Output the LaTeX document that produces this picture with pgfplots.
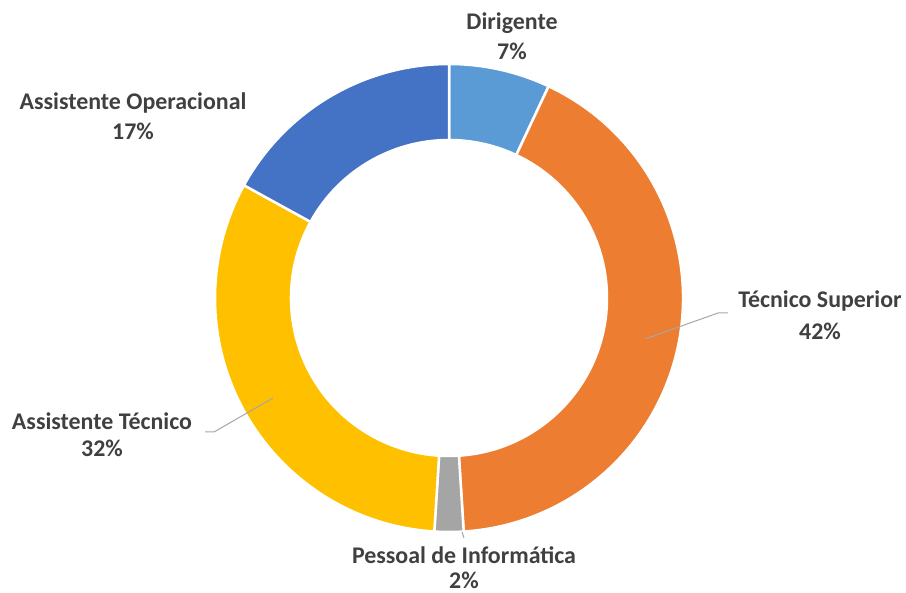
\documentclass[border=0pt]{standalone}
\usepackage{pgfplots}
\pgfplotsset{compat=1.18}
\usepackage{fontspec}
\setmainfont{Carlito}
\definecolor{cDir}{HTML}{5B9BD5}
\definecolor{cTec}{HTML}{ED7D31}
\definecolor{cPes}{HTML}{A5A5A5}
\definecolor{cAst}{HTML}{FFC000}
\definecolor{cAso}{HTML}{4472C4}
\definecolor{txt}{HTML}{404040}
\definecolor{lead}{HTML}{A6A6A6}
\tikzset{lbl/.style={font=\fontsize{24}{28}\selectfont\bfseries, text=txt, align=center, inner sep=0pt}}
\begin{document}
\begin{tikzpicture}
\begin{axis}[hide axis, scale only axis, width=906bp, height=593bp,
  xmin=0, xmax=906, ymin=0, ymax=593, clip=false]
\def\cx{449}\def\cy{295}
\def\Ro{234}\def\Ri{158}
\gdef\start{90}
% shares (percent): Dirigente, Tecnico Superior, Pessoal de Informatica, Assistente Tecnico, Assistente Operacional
\foreach \v/\c in {7/cDir,42/cTec,2/cPes,32/cAst,17/cAso} {
  \pgfmathsetmacro\e{\start - 3.6*\v}
  \edef\tmp{\noexpand\fill[\c, draw=white, line width=2.5bp] ([shift={(\start:\Ro bp)}]axis cs:\cx,\cy) arc[start angle=\start, end angle=\e, radius=\Ro bp] -- ([shift={(\e:\Ri bp)}]axis cs:\cx,\cy) arc[start angle=\e, end angle=\start, radius=\Ri bp] -- cycle;}
  \tmp
  \global\let\start\e
}
% leader lines
\draw[lead, line width=1bp] (axis cs:645,254) -- (axis cs:718,280) -- (axis cs:728,280);
\draw[lead, line width=1bp] (axis cs:205,161) -- (axis cs:214,161) -- (axis cs:273,195);
\draw[lead, line width=1bp] (axis cs:462,61) -- (axis cs:464,55);
% labels
\node[lbl] at (axis cs:512,570) {Dirigente};
\node[lbl] at (axis cs:512,542) {7\%};
\node[lbl] at (axis cs:820,292) {Técnico Superior};
\node[lbl] at (axis cs:820,262) {42\%};
\node[lbl] at (axis cs:464,38) {Pessoal de Informática};
\node[lbl] at (axis cs:464,13) {2\%};
\node[lbl] at (axis cs:102,172) {Assistente Técnico};
\node[lbl] at (axis cs:102,145) {32\%};
\node[lbl] at (axis cs:133,490) {Assistente Operacional};
\node[lbl] at (axis cs:133,462) {17\%};
\end{axis}
\pgfresetboundingbox
\path (current axis.south west) rectangle (current axis.north east);
\end{tikzpicture}
\end{document}
